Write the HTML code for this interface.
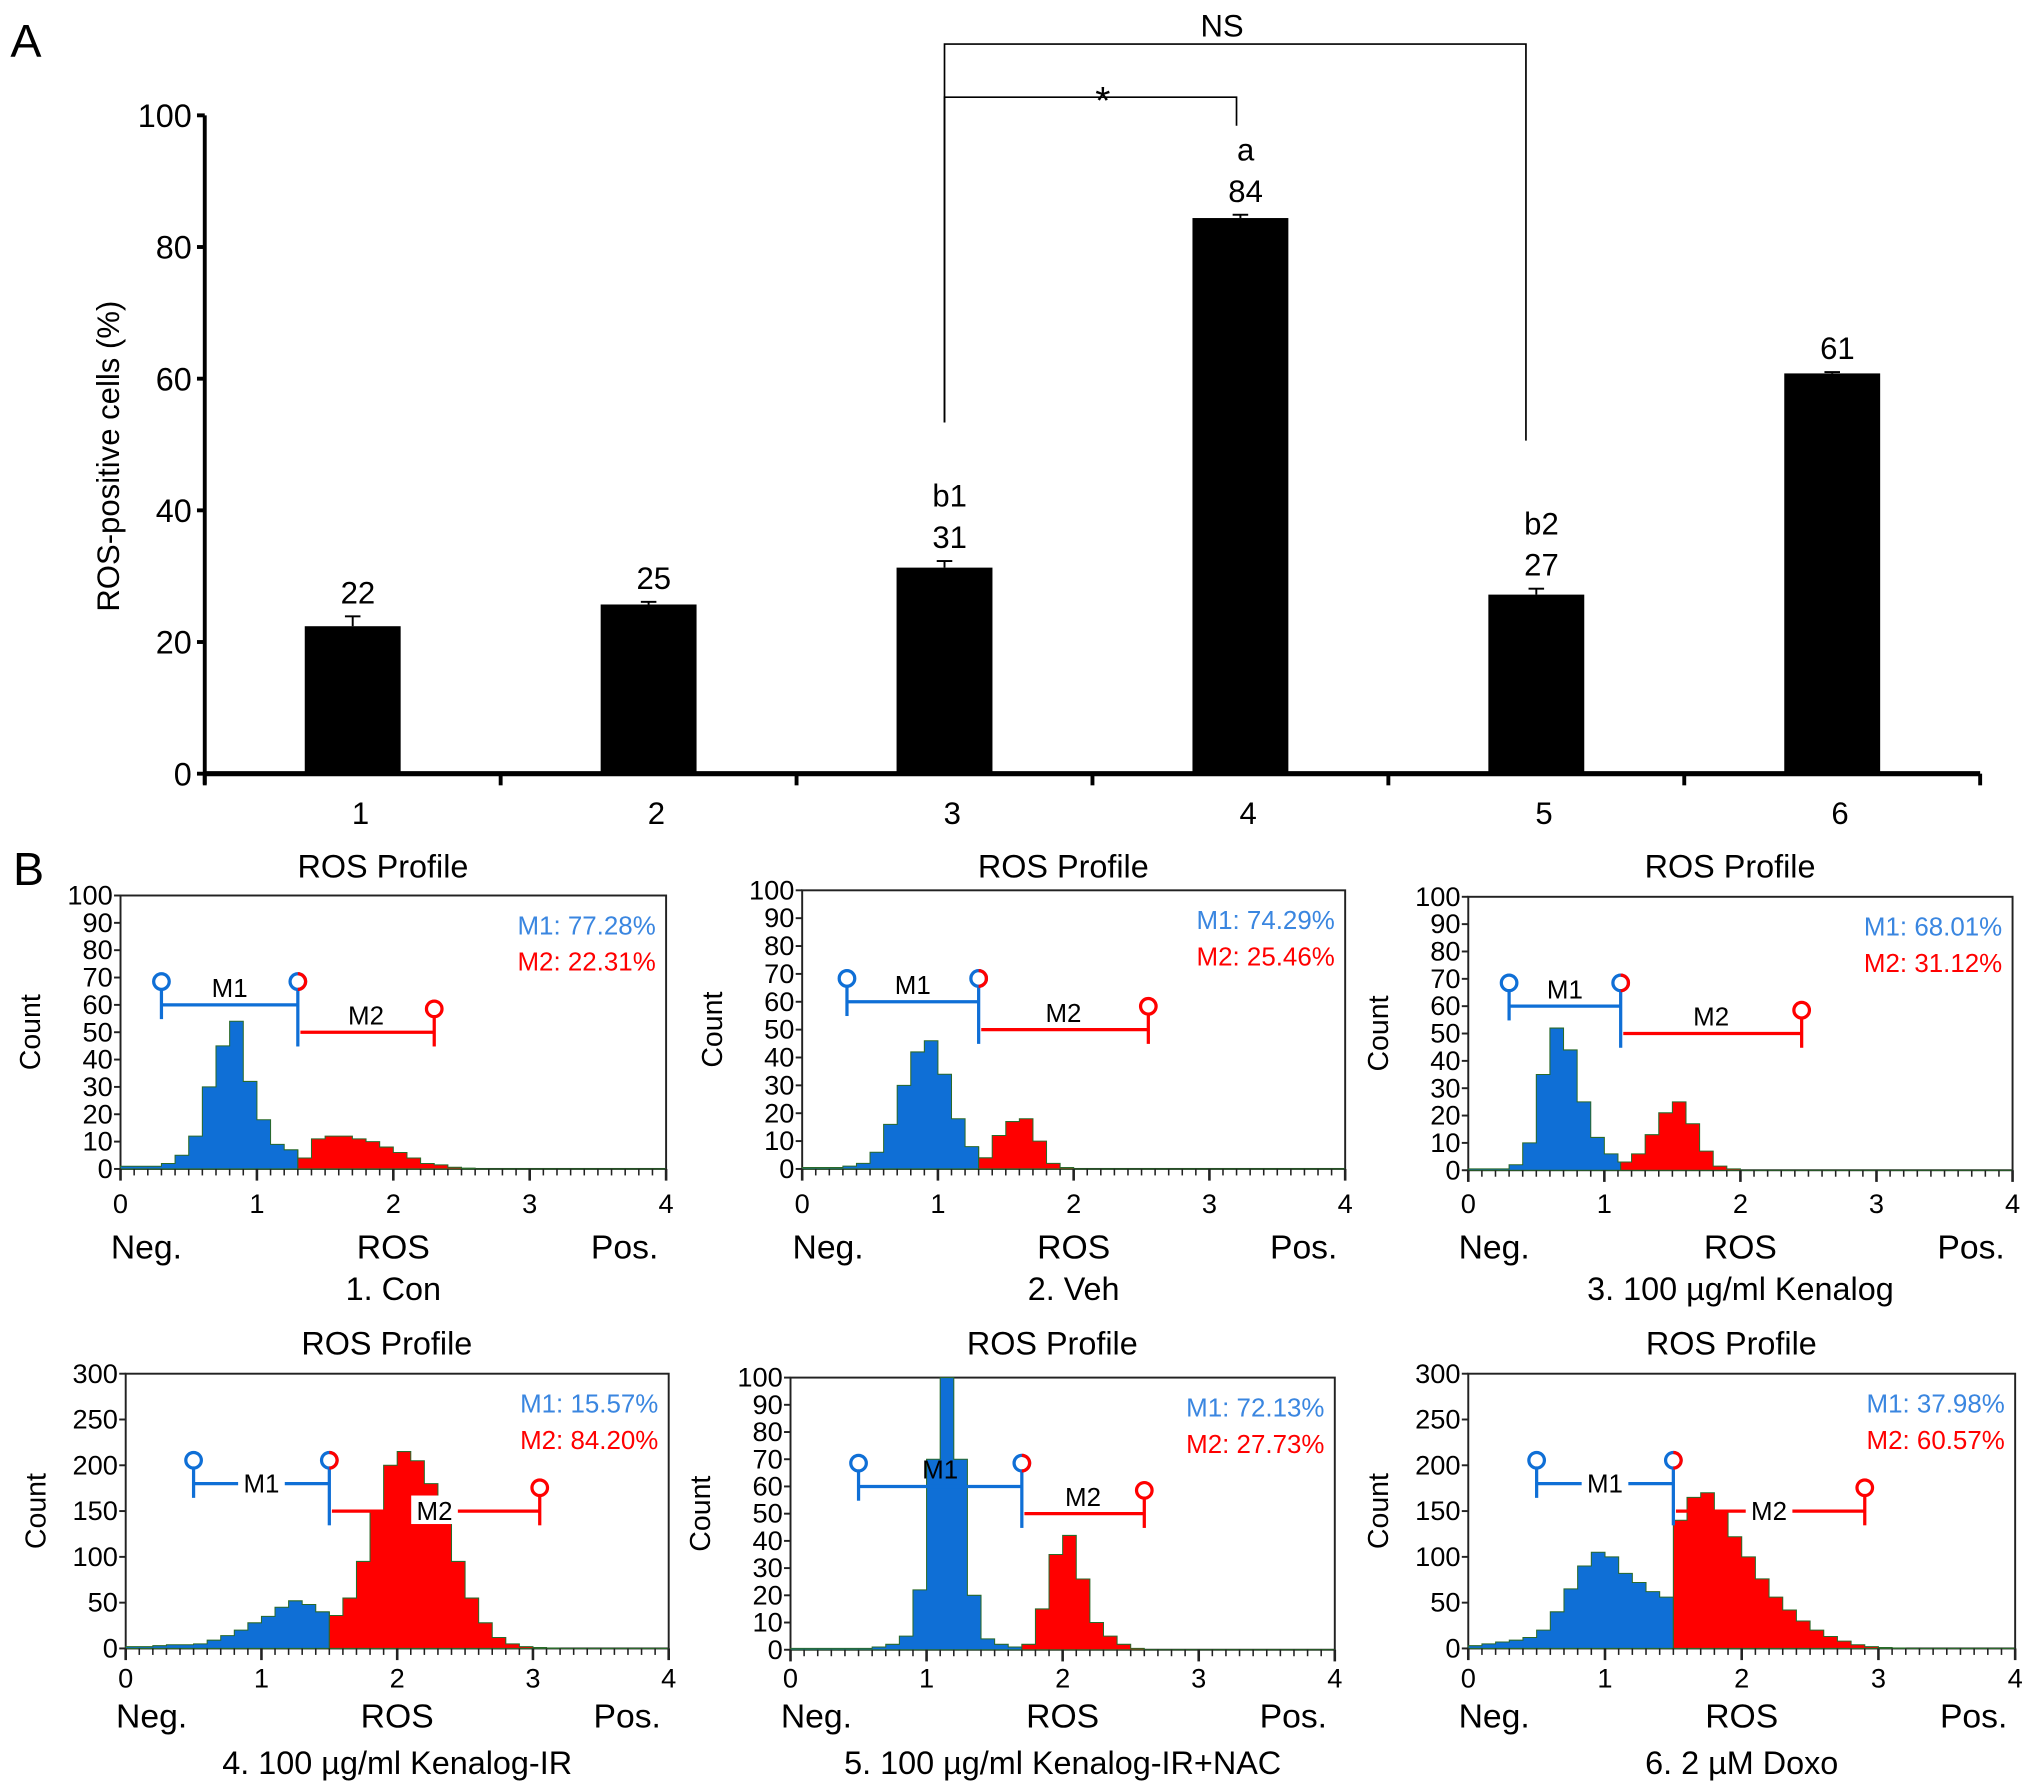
<!DOCTYPE html>
<html><head><meta charset="utf-8"><style>
html,body{margin:0;padding:0;background:#fff}
svg{display:block}
text{font-family:"Liberation Sans",sans-serif}
</style></head><body>
<svg id="fig" width="2032" height="1791" viewBox="0 0 1568 1382" preserveAspectRatio="none" xmlns="http://www.w3.org/2000/svg">
<rect width="1568" height="1382" fill="#fff"/>
<g id="pa"></g>
<g id="pb"></g>
</svg>
<script>
// ---- Panel A data ----
const barCats = ['1','2','3','4','5','6'];
const barVals = [22.4, 25.7, 31.3, 84.4, 27.2, 60.8];
const barErrs = [1.5, 0.4, 1.0, 0.5, 0.9, 0.2];
const barLabels = ['22','25','31','84','27','61'];
const barLetters = ['','','b1','a','b2',''];
const yTicks = [0,20,40,60,80,100];

// ---- Panel B data (counts per 0.1 bin, bins 0.0..3.9) ----
const hist1 = [1,1,1,2,5,12,30,45,54,32,18,9,7,4,11,12,12,11,10,8,6,4,2,1.5,0.6,0.3,0,0,0,0,0,0,0,0,0,0,0,0,0,0];
const hist2 = [0.5,0.5,0.5,1,2,6,16,30,42,46,34,18,8,4,12,17,18,10,2,0.5,0,0,0,0,0,0,0,0,0,0,0,0,0,0,0,0,0,0,0,0];
const hist3 = [0.5,0.5,0.5,2,10,35,52,44,25,12,6,3,6,13,21,25,17,7,1.5,0.5,0,0,0,0,0,0,0,0,0,0,0,0,0,0,0,0,0,0,0,0];
const hist4 = [2,2,3,4,4,5,9,14,20,28,35,45,52,48,40,36,55,95,150,200,215,205,180,140,95,55,28,12,5,2,1,0.5,0,0,0,0,0,0,0,0];
const hist5 = [0.5,0.5,0.5,0.5,0.5,0.5,1,2,5,22,70,100,70,20,4,2,1,2,15,35,42,26,10,5,2,0.5,0,0,0,0,0,0,0,0,0,0,0,0,0,0];
const hist6 = [3,5,7,9,12,20,40,65,90,105,100,82,72,62,56,140,165,170,150,122,100,76,56,42,30,20,13,8,4,2,1,0.5,0,0,0,0,0,0,0,0];
const histSets = [hist1,hist2,hist3,hist4,hist5,hist6];
const histYMax = [100,100,100,300,100,300];
const histYStep = [10,10,10,50,10,50];
const gateM1 = [[0.3,1.3],[0.33,1.3],[0.3,1.12],[0.5,1.5],[0.5,1.7],[0.5,1.5]];
const gateM2 = [[1.3,2.3],[1.3,2.55],[1.12,2.45],[1.5,3.05],[1.7,2.6],[1.5,2.9]];
const gateM1Level = [60,60,60,180,60,180];
const gateM2Level = [50,50,50,150,50,150];
const statM1 = ['M1: 77.28%','M1: 74.29%','M1: 68.01%','M1: 15.57%','M1: 72.13%','M1: 37.98%'];
const statM2 = ['M2: 22.31%','M2: 25.46%','M2: 31.12%','M2: 84.20%','M2: 27.73%','M2: 60.57%'];
const captions = ['1. Con','2. Veh','3. 100 \u00b5g/ml Kenalog','4. 100 \u00b5g/ml Kenalog-IR','5. 100 \u00b5g/ml Kenalog-IR+NAC','6. 2 \u00b5M Doxo'];
const xTicksB = [0,1,2,3,4];

const NS='http://www.w3.org/2000/svg';
function mk(parent,tag,attrs,txt){const e=document.createElementNS(NS,tag);for(const k in attrs)e.setAttribute(k,attrs[k]);if(txt!==undefined)e.textContent=txt;parent.appendChild(e);return e;}

// ---- Panel A ----
const pa=document.getElementById('pa');
const AX0=158, AX1=1528, AY0=597, AY1=89;
const ay=v=>AY0-(v/100)*(AY0-AY1);
const groupW=(AX1-AX0)/barCats.length;
const ax=i=>AX0+groupW*(i+0.5);
let t=mk(pa,'text',{x:8,y:44,'font-size':36});t.textContent='A';


let yl=mk(pa,'line',{x1:AX0,y1:AY1,x2:AX0,y2:AY0+8,stroke:'#000','stroke-width':3});


yTicks.forEach(v=>{
  mk(pa,'line',{x1:AX0-6,y1:ay(v),x2:AX0,y2:ay(v),stroke:'#000','stroke-width':3});
  const tl=mk(pa,'text',{x:AX0-10,y:ay(v)+9,'font-size':25,'text-anchor':'end'},String(v));
  
  
});
let yt=mk(pa,'text',{x:0,y:0,'font-size':24,'text-anchor':'middle',transform:'translate(92,352) rotate(-90)'},'ROS-positive cells (%)');


barCats.forEach((c,i)=>{
  const cx=ax(i), v=barVals[i], e=barErrs[i];
  const b=mk(pa,'rect',{x:cx-37,y:ay(v),width:74,height:AY0-ay(v),fill:'#000'});
  
  
  mk(pa,'line',{x1:cx,y1:ay(v),x2:cx,y2:ay(v+e),stroke:'#000','stroke-width':1.5});
  mk(pa,'line',{x1:cx-6,y1:ay(v+e),x2:cx+6,y2:ay(v+e),stroke:'#000','stroke-width':1.5});
  const vl=mk(pa,'text',{x:cx+4,y:ay(v+e)-10,'font-size':24,'text-anchor':'middle'},barLabels[i]);
  
  
  if(barLetters[i]){
    const ll=mk(pa,'text',{x:cx+4,y:ay(v+e)-42,'font-size':24,'text-anchor':'middle'},barLetters[i]);
    
    
  }
  const xl=mk(pa,'text',{x:cx+6,y:636,'font-size':24,'text-anchor':'middle'},c);
  
  
});
for(let i=0;i<=barCats.length;i++){mk(pa,'line',{x1:AX0+groupW*i,y1:AY0,x2:AX0+groupW*i,y2:AY0+9,stroke:'#000','stroke-width':3});}
let xa=mk(pa,'line',{x1:AX0,y1:AY0,x2:AX1,y2:AY0,stroke:'#000','stroke-width':4});


let br1=mk(pa,'path',{d:`M${ax(2)} 326 V34 H${ax(4)-8} V340`,fill:'none',stroke:'#000','stroke-width':1.3});


mk(pa,'text',{x:943,y:28,'font-size':24,'text-anchor':'middle'},'NS');
let br2=mk(pa,'path',{d:`M${ax(2)} 326 V75 H${ax(3)-3} V97`,fill:'none',stroke:'#000','stroke-width':1.3});


mk(pa,'text',{x:851,y:88,'font-size':30,'text-anchor':'middle'},'*');

// ---- Panel B ----
const pb=document.getElementById('pb');
let lb=mk(pb,'text',{x:10,y:683,'font-size':36},'B');


const boxes=[[93,514,691,902],[619,1038,687,902],[1133,1553,692,903],[97,516,1060,1272],[610,1030,1063,1273],[1133,1555,1060,1272]];
const rowText=[[677,936,971,1003],[1045,1302,1333,1369]];
const BLUE='#0f6fd6', RED='#f00', BLUET='#3a86e0';
histSets.forEach((h,p)=>{
  const [x0,x1,y0,y1]=boxes[p];
  const [tY,tickY,negY,capY]=rowText[p<3?0:1];
  const g=mk(pb,'g',{});
  
  
  const ymax=histYMax[p];
  const sx=v=>x0+(v/4)*(x1-x0);
  const sy=c=>y1-(Math.min(c,ymax*1.02)/ymax)*(y1-y0);
  const cx=(x0+x1)/2;
  mk(g,'text',{x:cx-8,y:tY,'font-size':25,'text-anchor':'middle'},'ROS Profile');
  mk(g,'rect',{x:x0,y:y0,width:x1-x0,height:y1-y0,fill:'#fff',stroke:'#222','stroke-width':1.5});
  const split=gateM1[p][1];
  function area(lo,hi,color,name){
    let d=`M${sx(lo)} ${y1}`;
    h.forEach((c,i)=>{const a=i*0.1,b=a+0.1;const A=Math.max(a,lo),B=Math.min(b,hi);if(B<=A)return;d+=` L${sx(A)} ${sy(c)} L${sx(B)} ${sy(c)}`;});
    d+=` L${sx(hi)} ${y1} Z`;
    const pth=mk(g,'path',{d:d,fill:color,stroke:'#2a6a2a','stroke-width':0.8});
    
    
  }
  area(0,split,BLUE,'m1-area');
  area(split,4,RED,'m2-area');
  for(let v=0;v<=ymax;v+=histYStep[p]){
    mk(g,'line',{x1:x0-5,y1:sy(v),x2:x0,y2:sy(v),stroke:'#222','stroke-width':1.5});
    const tl=mk(g,'text',{x:x0-6,y:sy(v)+7,'font-size':21,'text-anchor':'end'},String(v));
    
    
  }
  mk(g,'text',{x:0,y:0,'font-size':22,'text-anchor':'middle',transform:`translate(${x0-62},${(y0+y1)/2}) rotate(-90)`},'Count');
  for(let k=0;k<=40;k++){const v=k*0.1;mk(g,'line',{x1:sx(v),y1:y1,x2:sx(v),y2:y1+(k%10===0?9:5),stroke:'#222','stroke-width':k%10===0?2:1.2});}
  xTicksB.forEach(v=>{
    const tl=mk(g,'text',{x:sx(v),y:tickY,'font-size':21,'text-anchor':'middle'},String(v));
    
    
  });
  mk(g,'text',{x:x0+20,y:negY,'font-size':26,'text-anchor':'middle'},'Neg.');
  mk(g,'text',{x:cx,y:negY,'font-size':26,'text-anchor':'middle'},'ROS');
  mk(g,'text',{x:x1-32,y:negY,'font-size':26,'text-anchor':'middle'},'Pos.');
  const cap=mk(g,'text',{x:cx,y:capY,'font-size':25,'text-anchor':'middle'},captions[p]);
  
  
  const s1=mk(g,'text',{x:x1-8,y:y0+30,'font-size':20,'text-anchor':'end',fill:BLUET},statM1[p]);
  
  
  const s2=mk(g,'text',{x:x1-8,y:y0+58,'font-size':20,'text-anchor':'end',fill:RED},statM2[p]);
  
  
  const l1=sy(gateM1Level[p]), l2=sy(gateM2Level[p]);
  const a1=sx(gateM1[p][0]), b1=sx(gateM1[p][1]), a2=sx(gateM2[p][0]), b2=sx(gateM2[p][1]);
  const G1=mk(g,'g',{stroke:BLUE,'stroke-width':2.5,fill:'none'});
  
  
  mk(G1,'line',{x1:a1,y1:l1,x2:b1,y2:l1});
  mk(G1,'line',{x1:a1,y1:l1-12,x2:a1,y2:l1+11});
  mk(G1,'circle',{cx:a1,cy:l1-18,r:6,fill:'#fff'});
  mk(G1,'line',{x1:b1,y1:l1-12,x2:b1,y2:l2+11});
  mk(G1,'circle',{cx:b1,cy:l1-18,r:6,fill:'#fff'});
  const G2=mk(g,'g',{stroke:RED,'stroke-width':2.5,fill:'none'});
  
  
  mk(G2,'line',{x1:a2+2,y1:l2,x2:b2,y2:l2});
  mk(G2,'line',{x1:b2,y1:l2-12,x2:b2,y2:l2+11});
  mk(G2,'circle',{cx:b2,cy:l2-18,r:6,fill:'#fff'});
  mk(G2,'path',{d:`M${b1} ${l1-24} A6 6 0 0 1 ${b1} ${l1-12}`});
  const big=ymax>100;
  const m1x=(a1+b1)/2, m2x=(a2+b2)/2;
  if(big){
    mk(g,'rect',{x:m1x-18,y:l1-12,width:36,height:22,fill:'#fff'});
    mk(g,'rect',{x:m2x-18,y:l2-12,width:36,height:22,fill:'#fff'});
    mk(g,'text',{x:m1x,y:l1+7,'font-size':20,'text-anchor':'middle'},'M1');
    mk(g,'text',{x:m2x,y:l2+7,'font-size':20,'text-anchor':'middle'},'M2');
  } else {
    mk(g,'text',{x:m1x,y:l1-6,'font-size':20,'text-anchor':'middle'},'M1');
    mk(g,'text',{x:m2x,y:l2-6,'font-size':20,'text-anchor':'middle'},'M2');
  }
});
</script>
</body></html>
